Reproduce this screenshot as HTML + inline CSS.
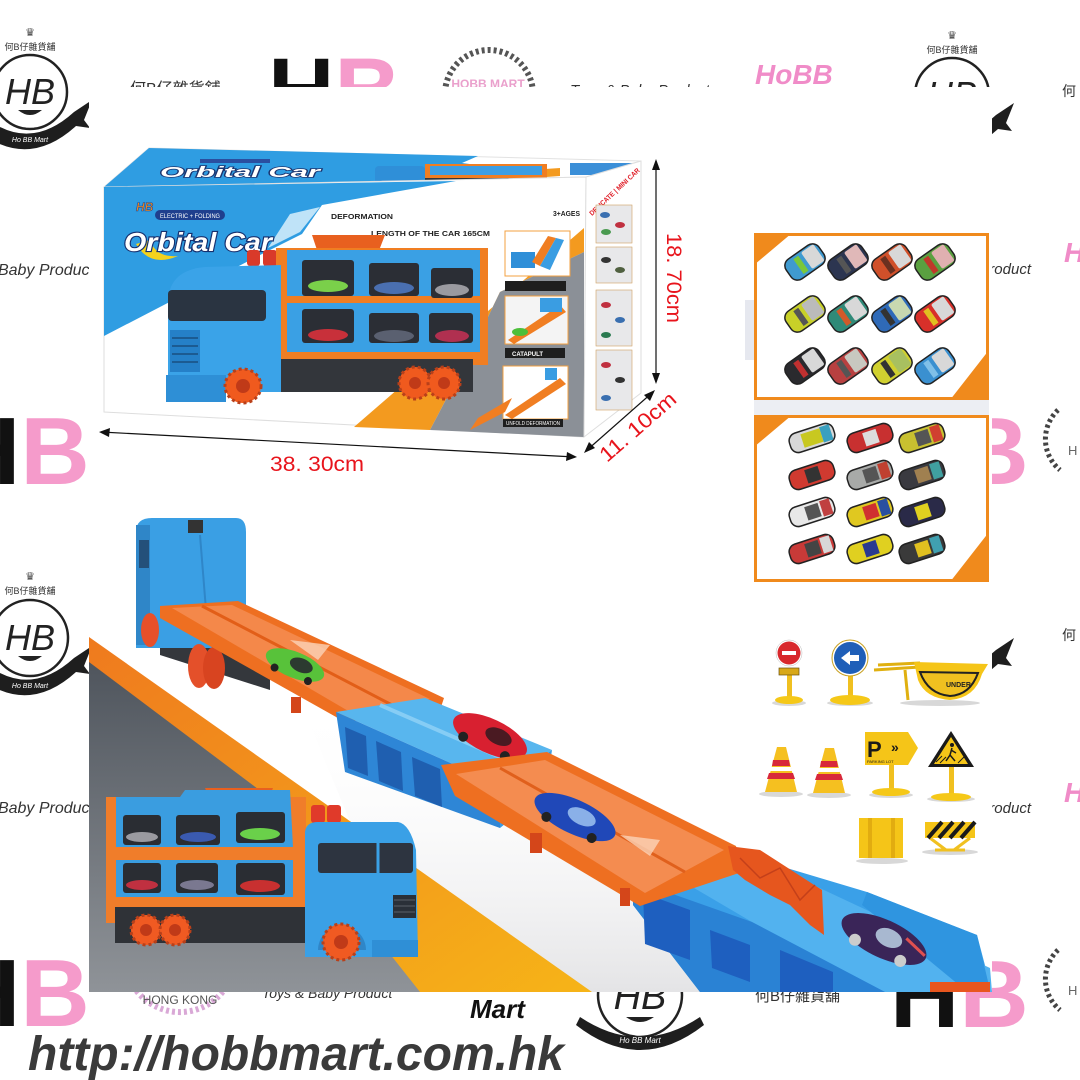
<!DOCTYPE html>
<html><head><meta charset="utf-8">
<style>
html,body{margin:0;padding:0;background:#fff;}
svg{display:block;}
text{font-family:"Liberation Sans","Noto Sans CJK SC",sans-serif;}
</style></head><body>
<svg width="1080" height="1080" viewBox="0 0 1080 1080" xmlns="http://www.w3.org/2000/svg">
<defs>
<linearGradient id="gg" x1="0" y1="0" x2="0" y2="1"><stop offset="0" stop-color="#4f555d"/><stop offset="1" stop-color="#8f9398"/></linearGradient>
<linearGradient id="og" x1="0" y1="0" x2="1" y2="1"><stop offset="0" stop-color="#ef7a1e"/><stop offset="1" stop-color="#f6b418"/></linearGradient>
<linearGradient id="sh" x1="0" y1="0" x2="0" y2="1"><stop offset="0" stop-color="#fff" stop-opacity="0"/><stop offset="1" stop-color="#e4e4e6"/></linearGradient>
</defs>
<rect width="1080" height="1080" fill="#fff"/>

<!-- ===== WATERMARKS ===== -->
<g transform="translate(30,92)">
 <text x="0" y="-56" font-family="DejaVu Sans" font-size="11" text-anchor="middle" fill="#444">♛</text>
 <text x="0" y="-42" font-size="9" text-anchor="middle" fill="#333">何B仔雜貨舖</text>
 <circle r="37" fill="none" stroke="#222" stroke-width="2.5"/>
 <text x="0" y="12" text-anchor="middle" font-family="Liberation Serif" font-style="italic" font-size="36" fill="#222">HB</text>
 <path d="M-12,18 Q0,28 12,18 Z" fill="#222"/>
 <path d="M-44,26 Q0,60 44,20 L62,8 L54,28 L60,36 L46,34 Q0,76 -48,42 Z" fill="#1e1e1e"/>
 <text x="0" y="50" font-size="7" text-anchor="middle" fill="#fff" font-style="italic">Ho BB Mart</text>
</g>
<g transform="translate(952,95)">
 <text x="0" y="-56" font-family="DejaVu Sans" font-size="11" text-anchor="middle" fill="#444">♛</text>
 <text x="0" y="-42" font-size="9" text-anchor="middle" fill="#333">何B仔雜貨舖</text>
 <circle r="37" fill="none" stroke="#222" stroke-width="2.5"/>
 <text x="0" y="12" text-anchor="middle" font-family="Liberation Serif" font-style="italic" font-size="36" fill="#222">HB</text>
 <path d="M-44,26 Q0,60 44,20 L62,8 L54,28 L60,36 L46,34 Q0,76 -48,42 Z" fill="#1e1e1e"/>
</g>
<g transform="translate(30,638)">
 <text x="0" y="-58" font-family="DejaVu Sans" font-size="11" text-anchor="middle" fill="#444">♛</text>
 <text x="0" y="-44" font-size="9" text-anchor="middle" fill="#333">何B仔雜貨舖</text>
 <circle r="38" fill="none" stroke="#222" stroke-width="2.5"/>
 <text x="0" y="12" text-anchor="middle" font-family="Liberation Serif" font-style="italic" font-size="36" fill="#222">HB</text>
 <path d="M-12,18 Q0,28 12,18 Z" fill="#222"/>
 <path d="M-44,26 Q0,60 44,20 L62,8 L54,28 L60,36 L46,34 Q0,76 -48,42 Z" fill="#1e1e1e"/>
 <text x="0" y="50" font-size="7" text-anchor="middle" fill="#fff" font-style="italic">Ho BB Mart</text>
</g>
<g transform="translate(952,630)">
 <circle r="38" fill="none" stroke="#222" stroke-width="2.5"/>
 <path d="M-44,26 Q0,60 44,20 L62,8 L54,28 L60,36 L46,34 Q0,76 -48,42 Z" fill="#1e1e1e"/>
</g>
<g transform="translate(640,995)">
 <circle r="42" fill="none" stroke="#222" stroke-width="2.5"/>
 <text x="0" y="14" text-anchor="middle" font-family="Liberation Serif" font-style="italic" font-size="38" fill="#222">HB</text>
 <path d="M-14,22 Q0,32 14,22 Z" fill="#222"/>
 <path d="M-60,22 Q0,62 60,22 L64,30 Q0,80 -64,30 Z" fill="#1e1e1e"/>
 <text x="0" y="48" font-size="8" text-anchor="middle" fill="#fff" font-style="italic">Ho BB Mart</text>
</g>

<text x="-49" y="484" font-size="96" font-weight="bold"><tspan fill="#111">H</tspan><tspan fill="#f59bcb">B</tspan></text>
<text x="-49" y="1026" font-size="96" font-weight="bold"><tspan fill="#111">H</tspan><tspan fill="#f59bcb">B</tspan></text>
<text x="268" y="122" font-size="92" font-weight="bold"><tspan fill="#111">H</tspan><tspan fill="#f59bcb">B</tspan></text>
<text x="890" y="484" font-size="96" font-weight="bold"><tspan fill="#111">H</tspan><tspan fill="#f59bcb">B</tspan></text>
<text x="890" y="1027" font-size="96" font-weight="bold"><tspan fill="#111">H</tspan><tspan fill="#f59bcb">B</tspan></text>

<text x="94" y="275" text-anchor="end" font-family="Liberation Serif" font-style="italic" font-size="16" fill="#333">Toys &amp; Baby Product</text>
<text x="94" y="813" text-anchor="end" font-family="Liberation Serif" font-style="italic" font-size="16" fill="#333">Toys &amp; Baby Product</text>
<text x="1031" y="274" text-anchor="end" font-family="Liberation Serif" font-style="italic" font-size="15" fill="#333">Toys &amp; Baby Product</text>
<text x="1031" y="813" text-anchor="end" font-family="Liberation Serif" font-style="italic" font-size="15" fill="#333">Toys &amp; Baby Product</text>
<text x="570" y="95" font-family="Liberation Serif" font-style="italic" font-size="15" fill="#333">Toys &amp; Baby Product</text>
<text x="262" y="998" font-family="Liberation Serif" font-style="italic" font-size="14" fill="#333">Toys &amp; Baby Product</text>

<text x="130" y="94" font-size="16" fill="#333">何B仔雜貨舖</text>
<text x="755" y="1001" font-size="15" fill="#333">何B仔雜貨舖</text>
<text x="1062" y="96" font-size="14" fill="#333">何</text>
<text x="1062" y="640" font-size="14" fill="#333">何</text>

<text x="755" y="84" font-size="28" font-weight="bold" font-style="italic" fill="#f08cc8">HoBB</text>
<text x="1064" y="262" font-size="28" font-weight="bold" font-style="italic" fill="#f08cc8">HoBB</text>
<text x="1064" y="802" font-size="28" font-weight="bold" font-style="italic" fill="#f08cc8">HoBB</text>

<path d="M448,110 A44,44 0 1 1 530,110" fill="none" stroke="#555" stroke-width="6" stroke-dasharray="3 3"/>
<text x="488" y="88" text-anchor="middle" font-size="12" fill="#eaa0cc" font-weight="bold">HOBB MART</text>
<path d="M128,975 A55,55 0 0 0 232,975" fill="none" stroke="#d9a8d6" stroke-width="6" stroke-dasharray="3 3"/>
<text x="180" y="1004" text-anchor="middle" font-size="12" fill="#555">HONG KONG</text>
<path d="M1058,410 A40,40 0 0 0 1060,470" fill="none" stroke="#444" stroke-width="5" stroke-dasharray="3 3"/>
<text x="1068" y="455" font-size="13" fill="#666">H</text>
<path d="M1058,950 A40,40 0 0 0 1060,1010" fill="none" stroke="#444" stroke-width="5" stroke-dasharray="3 3"/>
<text x="1068" y="995" font-size="13" fill="#666">H</text>
<text x="470" y="1018" font-size="26" font-weight="bold" font-style="italic" fill="#111">Mart</text>

<!-- ===== PANEL ===== -->
<rect x="89" y="87" width="903" height="905" fill="#fff"/>

<!-- ===== BOX ===== -->
<polygon points="104,187 149,148 641,161 586,177" fill="#fff" stroke="#e2e2e2"/>
<polygon points="104,187 149,148 478,156 462,163 492,167 456,181" fill="#2f9de2"/>
<text x="160" y="177" font-size="15" font-weight="bold" font-style="italic" fill="#fff" stroke="#1b3570" stroke-width="1.5" paint-order="stroke" textLength="160" lengthAdjust="spacingAndGlyphs">Orbital Car</text>
<rect x="200" y="159" width="70" height="4" fill="#2a4fa0"/>
<polygon points="500,172 560,168 560,176 505,180" fill="#f39a1f"/>
<rect x="375" y="166" width="50" height="20" rx="4" fill="#2f8fd8"/>
<rect x="425" y="164" width="122" height="14" fill="#f07e22"/>
<rect x="430" y="166" width="112" height="9" fill="#3c9ee4"/>
<rect x="425" y="178" width="120" height="8" fill="#33363b"/>
<circle cx="395" cy="187" r="5" fill="#f05a1e"/><circle cx="500" cy="186" r="5" fill="#f05a1e"/><circle cx="512" cy="186" r="5" fill="#f05a1e"/>
<rect x="570" y="163" width="62" height="12" fill="#3b8fd8"/>
<polygon points="104,187 586,177 584,437 104,412" fill="#fff" stroke="#dedede"/>
<polygon points="104,187 456,181 322,205 302,234 262,254 104,336" fill="#2f9de2"/>
<polygon points="290,214 320,207 300,232 268,248" fill="#bfe3f8"/>
<polygon points="354,427 430,430 472,350 500,292 584,252 584,228" fill="#f39a1f"/>
<polygon points="430,430 584,437 584,252 500,292 472,350" fill="#8b9097"/>
<text x="136" y="211" font-size="12" font-weight="bold" font-style="italic" fill="#f08a1e" stroke="#1d4a9a" stroke-width="0.6">HB</text>
<rect x="155" y="210" width="70" height="10" rx="5" fill="#1f3f8e"/>
<text x="160" y="218" font-size="6" fill="#fff" textLength="60" lengthAdjust="spacingAndGlyphs">ELECTRIC + FOLDING</text>
<path d="M136,244 Q150,268 178,256 Q156,258 150,240 Z" fill="#f5d21c"/>
<text x="124" y="251" font-size="26" font-weight="bold" font-style="italic" fill="#fff" stroke="#17306e" stroke-width="2.2" paint-order="stroke" textLength="148" lengthAdjust="spacingAndGlyphs">Orbital Car</text>
<text x="331" y="219" font-size="7.5" font-weight="bold" fill="#222" textLength="62" lengthAdjust="spacingAndGlyphs">DEFORMATION</text>
<text x="371" y="236" font-size="7.5" font-weight="bold" fill="#222" textLength="119" lengthAdjust="spacingAndGlyphs">LENGTH OF THE CAR 165CM</text>
<text x="553" y="216" font-size="7" font-weight="bold" fill="#222" textLength="27" lengthAdjust="spacingAndGlyphs">3+AGES</text>
<rect x="505" y="231" width="65" height="45" fill="#fff" stroke="#f3a040"/>
<rect x="511" y="252" width="24" height="16" fill="#2f8fd8"/>
<polygon points="532,262 548,236 556,238 540,266" fill="#f07e22"/>
<polygon points="540,266 556,238 564,240 550,270" fill="#3a9de2"/>
<rect x="505" y="281" width="61" height="10" fill="#1e1e1e"/>
<rect x="505" y="296" width="63" height="48" fill="#f4f4f4" stroke="#f3a040"/>
<polygon points="508,340 560,305 566,312 514,344" fill="#f07e22"/>
<ellipse cx="520" cy="332" rx="8" ry="4" fill="#4cbf3a"/>
<rect x="540" y="298" width="22" height="14" fill="#3a9de2"/>
<rect x="505" y="348" width="60" height="10" fill="#1e1e1e"/>
<text x="512" y="356" font-size="6" fill="#fff" font-weight="bold">CATAPULT</text>
<rect x="503" y="366" width="65" height="53" fill="#fff" stroke="#f3a040"/>
<polygon points="505,415 560,378 566,384 512,419" fill="#f07e22"/>
<rect x="545" y="368" width="12" height="12" fill="#3a9de2"/>
<polygon points="470,430 478,418 512,398 505,412" fill="#f07e22"/>
<rect x="503" y="419" width="60" height="8" fill="#1e1e1e"/>
<text x="506" y="425" font-size="5" fill="#fff" textLength="54" lengthAdjust="spacingAndGlyphs">UNFOLD DEFORMATION</text>
<polygon points="586,177 641,161 641,393 584,437" fill="#fff" stroke="#dedede"/>
<text x="592" y="216" font-size="7" font-weight="bold" fill="#e0202a" transform="rotate(-43 592 216)" textLength="66" lengthAdjust="spacingAndGlyphs">DELICATE | MINI CAR</text>
<g fill="#e8e8ea" stroke="#d0a060" stroke-width="0.6">
<rect x="596" y="205" width="36" height="38"/><rect x="596" y="247" width="36" height="36"/><rect x="596" y="290" width="36" height="56"/><rect x="596" y="350" width="36" height="60"/>
</g>
<g fill="#3a6fb0"><ellipse cx="605" cy="215" rx="5" ry="3"/><ellipse cx="620" cy="225" rx="5" ry="3" fill="#c03040"/><ellipse cx="606" cy="232" rx="5" ry="3" fill="#4a9a50"/><ellipse cx="606" cy="260" rx="5" ry="3" fill="#333"/><ellipse cx="620" cy="270" rx="5" ry="3" fill="#506040"/><ellipse cx="606" cy="305" rx="5" ry="3" fill="#c03040"/><ellipse cx="620" cy="320" rx="5" ry="3"/><ellipse cx="606" cy="335" rx="5" ry="3" fill="#2a7a50"/><ellipse cx="606" cy="365" rx="5" ry="3" fill="#c03040"/><ellipse cx="620" cy="380" rx="5" ry="3" fill="#333"/><ellipse cx="606" cy="398" rx="5" ry="3"/></g>

<polygon points="312,235 385,235 378,253 318,253" fill="#e8601f"/>
<rect x="247" y="250" width="13" height="16" rx="3" fill="#d93a2a"/><rect x="263" y="250" width="14" height="16" rx="3" fill="#d93a2a"/>
<rect x="276" y="248" width="212" height="117" fill="#f07e22"/>
<rect x="287" y="250" width="193" height="46" fill="#3aa0e4"/>
<rect x="287" y="303" width="193" height="49" fill="#3aa0e4"/>
<g fill="#2b2e35">
<rect x="302" y="260" width="52" height="36" rx="3"/><rect x="369" y="263" width="50" height="33" rx="3"/><rect x="431" y="268" width="42" height="30" rx="3"/>
<rect x="302" y="309" width="52" height="34" rx="3"/><rect x="369" y="313" width="50" height="30" rx="3"/><rect x="429" y="313" width="44" height="30" rx="3"/>
</g>
<ellipse cx="328" cy="286" rx="20" ry="6" fill="#7ad04a"/><ellipse cx="394" cy="288" rx="20" ry="6" fill="#4a6fb0"/><ellipse cx="452" cy="290" rx="17" ry="6" fill="#9a9aa0"/>
<ellipse cx="328" cy="335" rx="20" ry="6" fill="#c8303a"/><ellipse cx="394" cy="336" rx="20" ry="6" fill="#5a6070"/><ellipse cx="452" cy="336" rx="17" ry="6" fill="#b03050"/>
<rect x="277" y="359" width="196" height="33" fill="#33363b"/>
<g stroke="#b8401a" stroke-width="3" stroke-dasharray="3 3">
<circle cx="415" cy="383" r="16" fill="#f05a1e"/><circle cx="444" cy="383" r="16" fill="#f05a1e"/>
</g>
<circle cx="415" cy="383" r="6" fill="#c03a18"/><circle cx="444" cy="383" r="6" fill="#c03a18"/>
<path d="M168,300 Q170,270 205,267 L281,265 L281,392 L168,392 Z" fill="#3aa3e8"/>
<rect x="168" y="290" width="98" height="31" rx="4" fill="#2a3441"/>
<rect x="170" y="330" width="30" height="42" fill="#2580c8"/>
<g stroke="#1a4f80" stroke-width="1.5"><line x1="172" y1="338" x2="198" y2="338"/><line x1="172" y1="346" x2="198" y2="346"/><line x1="172" y1="354" x2="198" y2="354"/><line x1="172" y1="362" x2="198" y2="362"/></g>
<rect x="166" y="375" width="60" height="27" fill="#2e8fd6"/>
<g stroke="#b8401a" stroke-width="3" stroke-dasharray="3 3"><ellipse cx="243" cy="386" rx="18" ry="17" fill="#f05a1e"/></g>
<circle cx="243" cy="386" r="7" fill="#c03a18"/>

<g stroke="#111" stroke-width="1.2" fill="#111">
<line x1="101" y1="432" x2="575" y2="457"/>
<polygon points="99,432 110,428 109,437" stroke="none"/>
<polygon points="577,457 566,461 567,452" stroke="none"/>
<line x1="656" y1="161" x2="656" y2="382"/>
<polygon points="656,159 652,170 660,170" stroke="none"/>
<polygon points="656,384 652,373 660,373" stroke="none"/>
<line x1="653" y1="392" x2="586" y2="451"/>
<polygon points="655,390 650,401 644,395" stroke="none"/>
<polygon points="584,453 589,442 595,448" stroke="none"/>
</g>
<text x="270" y="471" font-size="21" fill="#e8141c" textLength="94" lengthAdjust="spacingAndGlyphs">38. 30cm</text>
<text x="667" y="233" font-size="21" fill="#e8141c" transform="rotate(90 667 233)" textLength="90" lengthAdjust="spacingAndGlyphs">18. 70cm</text>
<text x="607" y="463" font-size="21" fill="#e8141c" transform="rotate(-41 607 463)" textLength="94" lengthAdjust="spacingAndGlyphs">11. 10cm</text>

<!-- ===== CAR PANELS ===== -->
<polygon points="745,300 754,300 754,360 745,360" fill="#e6e8ef"/>
<polygon points="754,400 989,355 989,415 754,415" fill="#eceef3"/>
<rect x="755.5" y="234.5" width="232" height="164" fill="#fff" stroke="#f08a1c" stroke-width="3"/>
<polygon points="754,233 792,233 754,265" fill="#f08a1c"/>
<polygon points="989,400 950,400 989,350" fill="#f08a1c"/>
<rect x="755.5" y="416.5" width="232" height="164" fill="#fff" stroke="#f08a1c" stroke-width="3"/>
<polygon points="754,415 792,415 754,447" fill="#f08a1c"/>
<polygon points="989,582 950,582 989,532" fill="#f08a1c"/>

<g stroke="#222" stroke-width="1.5">
<g transform="translate(805,262) rotate(-35)"><rect x="-20" y="-12" width="40" height="24" rx="8" fill="#3f9ad0"/><rect x="2" y="-10" width="15" height="20" rx="2" fill="#d8d8d8" stroke="none"/><rect x="-8" y="-9" width="6" height="18" fill="#7ac83a" stroke="none"/></g>
<g transform="translate(848,262) rotate(-35)"><rect x="-20" y="-12" width="40" height="24" rx="8" fill="#2c3550"/><rect x="2" y="-10" width="15" height="20" rx="2" fill="#e0b8b8" stroke="none"/><rect x="-8" y="-9" width="6" height="18" fill="#555" stroke="none"/></g>
<g transform="translate(892,262) rotate(-35)"><rect x="-20" y="-12" width="40" height="24" rx="8" fill="#d0502a"/><rect x="2" y="-10" width="15" height="20" rx="2" fill="#d8d8d8" stroke="none"/><rect x="-8" y="-9" width="6" height="18" fill="#6a3020" stroke="none"/></g>
<g transform="translate(935,262) rotate(-35)"><rect x="-20" y="-12" width="40" height="24" rx="8" fill="#5aa040"/><rect x="2" y="-10" width="15" height="20" rx="2" fill="#e0b0b0" stroke="none"/><rect x="-8" y="-9" width="6" height="18" fill="#c0382a" stroke="none"/></g>
<g transform="translate(805,314) rotate(-35)"><rect x="-20" y="-12" width="40" height="24" rx="8" fill="#c8d028"/><rect x="2" y="-10" width="15" height="20" rx="2" fill="#bbb" stroke="none"/><rect x="-8" y="-9" width="6" height="18" fill="#555" stroke="none"/></g>
<g transform="translate(848,314) rotate(-35)"><rect x="-20" y="-12" width="40" height="24" rx="8" fill="#2f8a78"/><rect x="2" y="-10" width="15" height="20" rx="2" fill="#d8d8d8" stroke="none"/><rect x="-8" y="-9" width="6" height="18" fill="#d05a2a" stroke="none"/></g>
<g transform="translate(892,314) rotate(-35)"><rect x="-20" y="-12" width="40" height="24" rx="8" fill="#2f6ab8"/><rect x="2" y="-10" width="15" height="20" rx="2" fill="#c8d8b0" stroke="none"/><rect x="-8" y="-9" width="6" height="18" fill="#333" stroke="none"/></g>
<g transform="translate(935,314) rotate(-35)"><rect x="-20" y="-12" width="40" height="24" rx="8" fill="#d8302a"/><rect x="2" y="-10" width="15" height="20" rx="2" fill="#d8d8d8" stroke="none"/><rect x="-8" y="-9" width="6" height="18" fill="#e0c020" stroke="none"/></g>
<g transform="translate(805,366) rotate(-35)"><rect x="-20" y="-12" width="40" height="24" rx="8" fill="#2a2a2e"/><rect x="2" y="-10" width="15" height="20" rx="2" fill="#d8d8d8" stroke="none"/><rect x="-8" y="-9" width="6" height="18" fill="#c03030" stroke="none"/></g>
<g transform="translate(848,366) rotate(-35)"><rect x="-20" y="-12" width="40" height="24" rx="8" fill="#b84040"/><rect x="2" y="-10" width="15" height="20" rx="2" fill="#c8c8c0" stroke="none"/><rect x="-8" y="-9" width="6" height="18" fill="#555" stroke="none"/></g>
<g transform="translate(892,366) rotate(-35)"><rect x="-20" y="-12" width="40" height="24" rx="8" fill="#d0d030"/><rect x="2" y="-10" width="15" height="20" rx="2" fill="#a8c060" stroke="none"/><rect x="-8" y="-9" width="6" height="18" fill="#333" stroke="none"/></g>
<g transform="translate(935,366) rotate(-35)"><rect x="-20" y="-12" width="40" height="24" rx="8" fill="#3a90d0"/><rect x="2" y="-10" width="15" height="20" rx="2" fill="#d8d8d8" stroke="none"/><rect x="-8" y="-9" width="6" height="18" fill="#80c0e8" stroke="none"/></g>
</g>
<g stroke="#222" stroke-width="1.5">
<g transform="translate(812,438) rotate(-18)"><rect x="-23" y="-10" width="46" height="20" rx="8" fill="#d8d8d8"/><rect x="-10" y="-7" width="20" height="14" fill="#c8c820" stroke="none"/><rect x="10" y="-8" width="10" height="16" fill="#3aa0c0" stroke="none"/></g>
<g transform="translate(870,438) rotate(-18)"><rect x="-23" y="-10" width="46" height="20" rx="8" fill="#c83030"/><rect x="-6" y="-7" width="14" height="14" fill="#ddd" stroke="none"/></g>
<g transform="translate(922,438) rotate(-18)"><rect x="-23" y="-10" width="46" height="20" rx="8" fill="#c8c030"/><rect x="-6" y="-7" width="14" height="14" fill="#555" stroke="none"/><rect x="10" y="-8" width="10" height="16" fill="#d04030" stroke="none"/></g>
<g transform="translate(812,475) rotate(-18)"><rect x="-23" y="-10" width="46" height="20" rx="8" fill="#d03a30"/><rect x="-6" y="-7" width="14" height="14" fill="#333" stroke="none"/></g>
<g transform="translate(870,475) rotate(-18)"><rect x="-23" y="-10" width="46" height="20" rx="8" fill="#a8aaa8"/><rect x="-6" y="-7" width="14" height="14" fill="#555" stroke="none"/><rect x="10" y="-8" width="10" height="16" fill="#c04030" stroke="none"/></g>
<g transform="translate(922,475) rotate(-18)"><rect x="-23" y="-10" width="46" height="20" rx="8" fill="#3a3a40"/><rect x="-6" y="-7" width="14" height="14" fill="#a08050" stroke="none"/><rect x="10" y="-8" width="10" height="16" fill="#40a0a0" stroke="none"/></g>
<g transform="translate(812,512) rotate(-18)"><rect x="-23" y="-10" width="46" height="20" rx="8" fill="#e8e8e8"/><rect x="-6" y="-7" width="14" height="14" fill="#555" stroke="none"/><rect x="10" y="-8" width="10" height="16" fill="#c04040" stroke="none"/></g>
<g transform="translate(870,512) rotate(-18)"><rect x="-23" y="-10" width="46" height="20" rx="8" fill="#e0c820"/><rect x="-6" y="-7" width="14" height="14" fill="#d03030" stroke="none"/><rect x="10" y="-8" width="10" height="16" fill="#2a50a0" stroke="none"/></g>
<g transform="translate(922,512) rotate(-18)"><rect x="-23" y="-10" width="46" height="20" rx="8" fill="#2a2a48"/><rect x="-6" y="-7" width="14" height="14" fill="#e0d020" stroke="none"/></g>
<g transform="translate(812,549) rotate(-18)"><rect x="-23" y="-10" width="46" height="20" rx="8" fill="#c83a38"/><rect x="-6" y="-7" width="14" height="14" fill="#444" stroke="none"/><rect x="10" y="-8" width="10" height="16" fill="#d8d8d8" stroke="none"/></g>
<g transform="translate(870,549) rotate(-18)"><rect x="-23" y="-10" width="46" height="20" rx="8" fill="#e0d020"/><rect x="-6" y="-7" width="14" height="14" fill="#2a3a90" stroke="none"/></g>
<g transform="translate(922,549) rotate(-18)"><rect x="-23" y="-10" width="46" height="20" rx="8" fill="#3a3a3a"/><rect x="-6" y="-7" width="14" height="14" fill="#e0c020" stroke="none"/><rect x="10" y="-8" width="10" height="16" fill="#40a0b0" stroke="none"/></g>
</g>

<!-- ===== SIGNS ===== -->
<g fill="#d8d8d8"><ellipse cx="789" cy="703" rx="17" ry="3"/><ellipse cx="850" cy="703" rx="23" ry="3"/><ellipse cx="940" cy="703" rx="40" ry="3"/><ellipse cx="781" cy="794" rx="22" ry="3"/><ellipse cx="829" cy="795" rx="22" ry="3"/><ellipse cx="891" cy="795" rx="22" ry="3"/><ellipse cx="951" cy="799" rx="24" ry="3"/><ellipse cx="882" cy="861" rx="26" ry="3"/><ellipse cx="950" cy="852" rx="28" ry="3"/></g>
<rect x="787" y="672" width="5" height="28" fill="#f0c020"/>
<ellipse cx="789" cy="700" rx="14" ry="4" fill="#f5c818"/>
<rect x="779" y="668" width="20" height="7" fill="#d8a818" stroke="#6a5010" stroke-width="0.7"/>
<circle cx="789" cy="653" r="13" fill="#fff" stroke="#bbb" stroke-width="0.5"/>
<circle cx="789" cy="653" r="11.5" fill="#d8282c"/>
<rect x="782" y="651" width="14" height="4" fill="#fff"/>
<rect x="848" y="675" width="5" height="25" fill="#f0c020"/>
<ellipse cx="850" cy="700" rx="20" ry="5" fill="#f5c818"/>
<circle cx="850" cy="658" r="18" fill="#fff" stroke="#c8a020" stroke-width="1"/>
<circle cx="850" cy="658" r="16" fill="#1f5fb8"/>
<path d="M841,658 L850,651 L850,655 L859,655 L859,661 L850,661 L850,665 Z" fill="#fff"/>
<g stroke="#e0b010" stroke-width="3" fill="none"><line x1="874" y1="670" x2="920" y2="667"/><line x1="878" y1="665" x2="920" y2="663"/><line x1="905" y1="670" x2="908" y2="700"/></g>
<path d="M914,662 L988,664 L982,674 Q975,698 950,700 Q925,698 918,680 Z" fill="#f5c518"/>
<path d="M920,672 L978,673 Q970,695 950,696 Q928,694 920,672 Z" fill="#f0c020" stroke="#222" stroke-width="2"/>
<text x="946" y="687" font-size="7" font-weight="bold" fill="#222">UNDER</text>
<polygon points="765,792 797,792 786,747 777,747" fill="#f5c020"/>
<polygon points="773,760 789,760 790,766 772,766" fill="#d8283a"/>
<polygon points="771,767 791,767 792,771 770,771" fill="#fff"/>
<polygon points="769,773 793,773 795,779 767,779" fill="#d8283a"/>
<polygon points="813,793 845,793 834,748 825,748" fill="#f5c020"/>
<polygon points="821,761 837,761 838,767 820,767" fill="#d8283a"/>
<polygon points="819,768 839,768 840,772 818,772" fill="#fff"/>
<polygon points="817,774 841,774 843,780 815,780" fill="#d8283a"/>
<rect x="889" y="765" width="5" height="26" fill="#f0c020"/>
<ellipse cx="891" cy="792" rx="19" ry="4" fill="#f5c818"/>
<polygon points="865,732 908,732 918,748 908,765 865,765" fill="#f5c518"/>
<text x="867" y="757" font-size="22" font-weight="bold" fill="#1a1a1a">P</text>
<text x="891" y="752" font-size="14" font-weight="bold" fill="#1a1a1a">»</text>
<text x="867" y="763" font-size="4" fill="#1a1a1a">PARKING LOT</text>
<rect x="949" y="766" width="5" height="30" fill="#f0c020"/>
<ellipse cx="951" cy="797" rx="20" ry="4" fill="#f5c818"/>
<polygon points="951,731 974,767 928,767" fill="#1a1a1a"/>
<polygon points="951,737 968,764 934,764" fill="#f5c518"/>
<circle cx="952" cy="745" r="2" fill="#1a1a1a"/>
<path d="M952,748 L950,755 L946,761 M950,755 L955,761 M951,750 L956,753" stroke="#1a1a1a" stroke-width="1.5" fill="none"/>
<path d="M936,762 L942,756 M940,763 L946,757 M958,763 L964,757" stroke="#1a1a1a" stroke-width="1"/>
<rect x="859" y="818" width="44" height="40" fill="#f5c518"/>
<rect x="868" y="818" width="4" height="40" fill="#e2ac10"/><rect x="891" y="818" width="4" height="40" fill="#e2ac10"/>
<path d="M930,838 L946,850 M970,838 L954,850 M935,850 L965,850" stroke="#f0c020" stroke-width="3"/>
<rect x="925" y="822" width="50" height="16" fill="#f5c518"/>
<g stroke="#1a1a1a" stroke-width="4"><line x1="928" y1="838" x2="942" y2="822"/><line x1="939" y1="838" x2="953" y2="822"/><line x1="950" y1="838" x2="964" y2="822"/><line x1="961" y1="838" x2="975" y2="822"/></g>

<!-- ===== BOTTOM SCENE ===== -->
<polygon points="300,700 560,780 720,900 700,992 420,992" fill="url(#sh)"/>
<polygon points="89,637 592,992 89,992" fill="url(#og)"/>
<polygon points="89,662 262,792 420,992 89,992" fill="url(#gg)"/>

<!-- back truck -->
<polygon points="160,610 270,642 270,690 160,655" fill="#34373c"/>
<path d="M136,532 Q136,518 152,518 L236,518 Q246,518 246,532 L246,648 L136,648 Z" fill="#3a9fe4"/>
<rect x="136" y="525" width="14" height="120" fill="#2f86c8"/>
<rect x="139" y="540" width="10" height="28" fill="#24507a"/>
<rect x="188" y="520" width="15" height="13" fill="#333"/>
<line x1="200" y1="535" x2="206" y2="610" stroke="#2f86c8" stroke-width="2"/>
<ellipse cx="150" cy="630" rx="9" ry="17" fill="#e8502a"/>
<ellipse cx="199" cy="666" rx="11" ry="22" fill="#e4502a"/>
<ellipse cx="214" cy="668" rx="11" ry="21" fill="#d84420"/>
<!-- track 1 -->
<polygon points="160,606 238,601 444,698 440,710 345,722 160,618" fill="#ee6f21"/>
<polygon points="172,608 232,605 430,699 350,712" fill="#f4884a"/>
<line x1="202" y1="606" x2="392" y2="705" stroke="#e25e18" stroke-width="3"/>
<polygon points="290,640 330,645 318,660" fill="#fbd3b8" opacity="0.8"/>
<rect x="291" y="697" width="10" height="16" fill="#d4461a"/>
<g transform="translate(295,665) rotate(22)"><ellipse rx="31" ry="13" fill="#58c23a"/><ellipse cx="6" cy="-2" rx="12" ry="7" fill="#2c3a30"/><circle cx="-18" cy="10" r="4" fill="#222"/><circle cx="18" cy="10" r="4" fill="#222"/></g>
<!-- blue section 1 -->
<polygon points="336,712 425,698 552,750 500,785" fill="#58b6ee"/>
<line x1="380" y1="705" x2="525" y2="768" stroke="#86cdf5" stroke-width="4"/>
<polygon points="336,712 500,785 500,828 345,772" fill="#2e86d6"/>
<g fill="#1f5fb0">
<polygon points="345,727 366,736 368,776 348,768"/>
<polygon points="376,741 401,752 403,791 379,781"/>
<polygon points="412,757 440,769 442,807 415,796"/>
</g>
<polygon points="500,785 552,750 546,790 500,828" fill="#3a9be2"/>
<g transform="translate(490,736) rotate(25)"><ellipse rx="40" ry="17" fill="#d82030"/><ellipse cx="8" cy="-3" rx="14" ry="8" fill="#4a1a22"/><circle cx="-24" cy="12" r="5" fill="#222"/><circle cx="22" cy="12" r="5" fill="#222"/></g>
<!-- blue section 2 (behind track 2 end) -->
<polygon points="633,880 660,868 760,860 867,892 977,935 992,992 700,992 633,905" fill="#3aa0e8"/>
<polygon points="660,868 760,860 990,968 992,992 885,992 752,922" fill="#52b2ef"/>
<polygon points="867,892 977,935 990,990 965,990 862,905" fill="#2f95e0"/>
<polygon points="633,880 752,922 885,992 700,992 633,905" fill="#2a82d4"/>
<g fill="#1e5fbf">
<polygon points="643,893 690,910 690,960 645,944"/>
<polygon points="710,930 750,945 750,982 712,968"/>
<polygon points="780,950 833,972 833,992 780,992"/>
</g>
<rect x="930" y="982" width="60" height="10" fill="#e8561e"/>
<!-- track 2 -->
<polygon points="441,765 547,752 736,846 742,872 640,906 455,796" fill="#ee6f21"/>
<polygon points="456,774 545,760 724,850 645,893" fill="#f48c50"/>
<line x1="500" y1="768" x2="685" y2="872" stroke="#e0601c" stroke-width="3"/>
<polygon points="620,835 660,840 650,856" fill="#fbd3b8" opacity="0.8"/>
<rect x="530" y="833" width="12" height="20" fill="#d4461a"/>
<rect x="620" y="888" width="10" height="18" fill="#d4461a"/>
<g transform="translate(575,817) rotate(25)"><ellipse rx="44" ry="17" fill="#2048b8"/><ellipse cx="6" cy="-3" rx="15" ry="8" fill="#8ab0e8"/><circle cx="-26" cy="12" r="5" fill="#222"/><circle cx="24" cy="12" r="5" fill="#222"/></g>
<!-- bridge -->
<polygon points="728,846 760,850 822,890 824,935 810,925 790,905 770,895 745,880 733,870" fill="#e6561e"/>
<path d="M740,858 L760,878 L780,868 L800,900 L815,885" stroke="#c4401a" stroke-width="1.5" fill="none"/>
<g transform="translate(884,939) rotate(25)"><ellipse rx="46" ry="19" fill="#3a2558"/><ellipse cx="4" cy="-3" rx="14" ry="9" fill="#a8b8d0"/><path d="M20,-10 L44,-2" stroke="#e05050" stroke-width="3"/><circle cx="-26" cy="13" r="6" fill="#ccc"/><circle cx="24" cy="13" r="6" fill="#ccc"/></g>

<!-- front truck -->
<polygon points="205,788 273,788 266,805 212,805" fill="#e8601f"/>
<rect x="311" y="805" width="14" height="18" rx="3" fill="#e03a2a"/><rect x="327" y="805" width="14" height="18" rx="3" fill="#e03a2a"/>
<rect x="106" y="797" width="200" height="126" fill="#f07d2a"/>
<polygon points="116,797 180,797 185,790 290,790 293,847 116,847" fill="#3a9de0"/>
<rect x="116" y="860" width="177" height="37" fill="#3a9de0"/>
<g fill="#2a2d33">
<rect x="123" y="815" width="38" height="30" rx="3"/><rect x="176" y="815" width="44" height="30" rx="3"/><rect x="236" y="812" width="49" height="31" rx="3"/>
<rect x="123" y="863" width="38" height="30" rx="3"/><rect x="176" y="863" width="42" height="30" rx="3"/><rect x="236" y="863" width="49" height="32" rx="3"/>
</g>
<ellipse cx="142" cy="837" rx="16" ry="5" fill="#9a9aa0"/><ellipse cx="198" cy="837" rx="18" ry="5" fill="#3a5ab0"/><ellipse cx="260" cy="834" rx="20" ry="6" fill="#6ad04a"/>
<ellipse cx="142" cy="885" rx="16" ry="5" fill="#c03040"/><ellipse cx="197" cy="885" rx="17" ry="5" fill="#7a7890"/><ellipse cx="260" cy="886" rx="20" ry="6" fill="#c83030"/>
<rect x="115" y="907" width="195" height="36" fill="#2f3237"/>
<g stroke="#b8401a" stroke-width="3" stroke-dasharray="3 3"><circle cx="146" cy="930" r="15" fill="#f05a22"/><circle cx="175" cy="930" r="15" fill="#f05a22"/></g>
<circle cx="146" cy="930" r="6" fill="#c03a18"/><circle cx="175" cy="930" r="6" fill="#c03a18"/>
<path d="M305,832 Q306,822 318,822 L398,822 Q410,824 416,850 L418,957 L305,957 Z" fill="#3aa0e6"/>
<rect x="318" y="843" width="95" height="30" rx="3" fill="#2d3440"/>
<line x1="378" y1="843" x2="378" y2="873" stroke="#3aa0e6" stroke-width="3"/>
<rect x="393" y="895" width="23" height="23" fill="#2a3038"/>
<g stroke="#5a6068" stroke-width="1"><line x1="394" y1="900" x2="415" y2="900"/><line x1="394" y1="906" x2="415" y2="906"/><line x1="394" y1="912" x2="415" y2="912"/></g>
<path d="M318,950 A24,24 0 0 1 366,950 Z" fill="#2f86c8"/>
<g stroke="#b8401a" stroke-width="3" stroke-dasharray="3 3"><circle cx="341" cy="942" r="18" fill="#f05a22"/></g>
<circle cx="341" cy="942" r="7" fill="#c03a18"/>
<rect x="372" y="940" width="46" height="17" fill="#2f8fd6"/>

<text x="28" y="1070" font-size="48" font-weight="bold" font-style="italic" fill="#3a3a3a">http://hobbmart.com.hk</text>
</svg>
</body></html>
